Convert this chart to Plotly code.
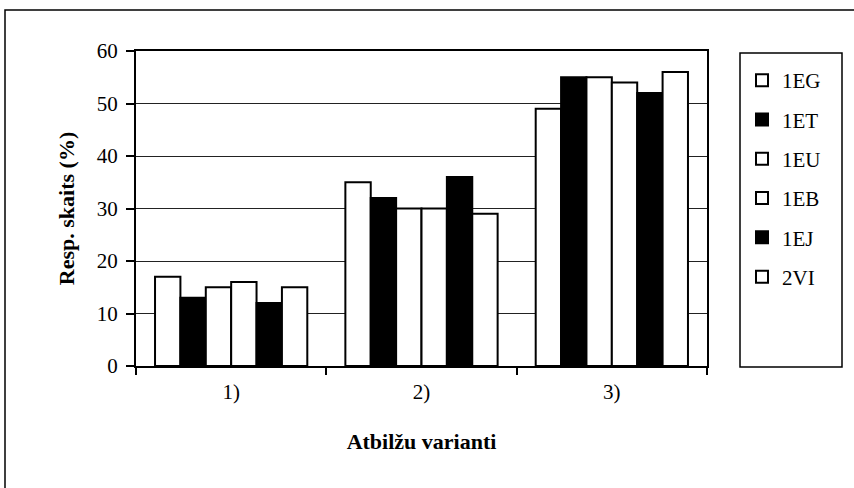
import plotly.graph_objects as go

categories = ["1)", "2)", "3)"]
series_names = ["1EG", "1ET", "1EU", "1EB", "1EJ", "2VI"]
v_1EG = [17, 35, 49]
v_1ET = [13, 32, 55]
v_1EU = [15, 30, 55]
v_1EB = [16, 30, 54]
v_1EJ = [12, 36, 52]
v_2VI = [15, 29, 56]
values = [v_1EG, v_1ET, v_1EU, v_1EB, v_1EJ, v_2VI]
fills = ["white", "black", "white", "white", "black", "white"]

FONT = "Liberation Serif"
L, R, T, B = 136, 707, 51, 366
PW, PH = R - L, B - T


def px(x):
    return (x - L) / PW


def py(y):
    return (B - y) / PH


fig = go.Figure()
for name, vals, col in zip(series_names, values, fills):
    fig.add_trace(go.Bar(
        x=categories, y=vals, name=name,
        marker=dict(color=col, line=dict(color="black", width=2)),
        legendgroup=name,
    ))

fig.update_layout(
    width=854, height=488,
    margin=dict(l=L, r=854 - R, t=T, b=488 - B),
    paper_bgcolor="white", plot_bgcolor="white",
    barmode="group", bargap=0.2, bargroupgap=0,
    font=dict(family=FONT, size=21, color="black"),
    showlegend=True,
    legend=dict(
        x=px(742), y=py(60), xanchor="left", yanchor="top",
        traceorder="grouped", tracegroupgap=9,
        font=dict(family=FONT, size=21, color="black"),
        bgcolor="rgba(0,0,0,0)", borderwidth=0,
        itemwidth=30,
    ),
    xaxis=dict(
        type="category", showgrid=False,
        showline=True, linecolor="black", linewidth=2, mirror=True,
        ticks="outside", tickson="boundaries", ticklen=7, tickcolor="black", tickwidth=1.5,
        tickfont=dict(family=FONT, size=21), ticklabelstandoff=6,
        title=dict(text="<b>Atbilžu varianti</b>", font=dict(family=FONT, size=22), standoff=30),
    ),
    yaxis=dict(
        range=[0, 60], dtick=10,
        showgrid=True, gridcolor="#222", gridwidth=1,
        showline=True, linecolor="black", linewidth=2, mirror=True,
        ticks="outside", ticklen=8, tickcolor="black", tickwidth=1.5,
        tickfont=dict(family=FONT, size=21), ticklabelstandoff=4,
        zeroline=False,
        title=dict(text="<b>Resp. skaits (%)</b>", font=dict(family=FONT, size=22), standoff=16),
    ),
    shapes=[
        # legend frame
        dict(type="rect", xref="paper", yref="paper",
             x0=px(740), x1=px(842), y0=py(367), y1=py(53),
             line=dict(color="black", width=1.5), fillcolor="rgba(0,0,0,0)"),
        # outer chart frame
        dict(type="rect", xref="paper", yref="paper",
             x0=px(5), x1=px(860), y0=py(495), y1=py(10),
             line=dict(color="black", width=1.5), fillcolor="rgba(0,0,0,0)"),
    ],
)

fig.write_html("out.html")
